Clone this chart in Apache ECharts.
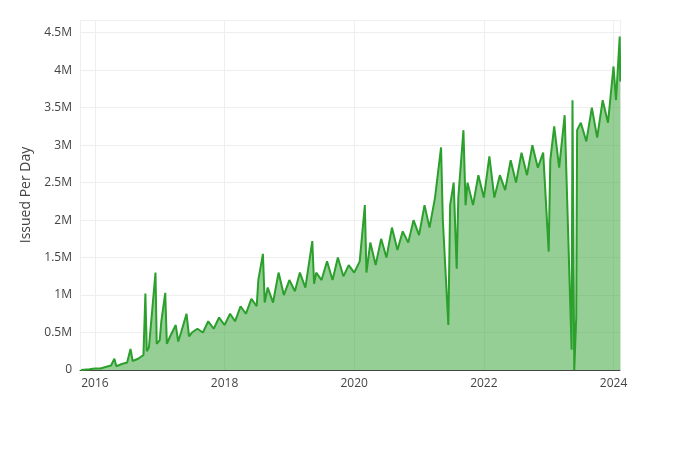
<!DOCTYPE html><html><head><meta charset="utf-8"><script src="https://cdn.jsdelivr.net/npm/echarts@6/dist/echarts.min.js"></script></head><body style="margin:0"><div id="c" style="width:700px;height:450px"></div><script>
const dates=["2015-10-15","2015-12-01","2016-01-01","2016-02-01","2016-03-01","2016-04-01","2016-04-20","2016-05-01","2016-06-01","2016-07-01","2016-07-20","2016-08-01","2016-09-01","2016-10-01","2016-10-12","2016-10-20","2016-11-01","2016-12-08","2016-12-15","2017-01-01","2017-01-10","2017-02-01","2017-02-10","2017-03-01","2017-04-01","2017-04-15","2017-05-01","2017-06-01","2017-06-15","2017-07-01","2017-08-01","2017-09-01","2017-10-01","2017-11-01","2017-12-01","2018-01-01","2018-02-01","2018-03-01","2018-04-01","2018-05-01","2018-06-01","2018-07-01","2018-07-10","2018-08-05","2018-08-15","2018-09-01","2018-10-01","2018-11-01","2018-12-01","2019-01-01","2019-02-01","2019-03-01","2019-04-01","2019-05-10","2019-05-20","2019-06-01","2019-07-01","2019-08-01","2019-09-01","2019-10-01","2019-11-01","2019-12-01","2020-01-01","2020-02-01","2020-03-01","2020-03-10","2020-04-01","2020-05-01","2020-06-01","2020-07-01","2020-08-01","2020-09-01","2020-10-01","2020-11-01","2020-12-01","2021-01-01","2021-02-01","2021-03-01","2021-04-01","2021-05-05","2021-05-15","2021-06-15","2021-06-25","2021-07-15","2021-08-01","2021-08-10","2021-09-08","2021-09-20","2021-10-01","2021-11-01","2021-12-01","2022-01-01","2022-02-01","2022-03-01","2022-04-01","2022-05-01","2022-06-01","2022-07-01","2022-08-01","2022-09-01","2022-10-01","2022-11-01","2022-12-01","2023-01-01","2023-01-10","2023-02-01","2023-03-01","2023-04-01","2023-05-10","2023-05-15","2023-05-25","2023-06-05","2023-06-10","2023-07-01","2023-08-01","2023-09-01","2023-10-01","2023-11-01","2023-12-01","2024-01-01","2024-01-15","2024-02-05","2024-02-08"];
const values=[0,0.01,0.02,0.02,0.04,0.06,0.15,0.05,0.08,0.1,0.28,0.12,0.15,0.2,1.02,0.25,0.3,1.3,0.35,0.4,0.65,1.03,0.35,0.45,0.6,0.38,0.5,0.75,0.45,0.5,0.55,0.5,0.65,0.55,0.7,0.6,0.75,0.65,0.85,0.75,0.95,0.85,1.2,1.55,0.9,1.1,0.9,1.3,1.0,1.2,1.05,1.3,1.1,1.72,1.15,1.3,1.2,1.45,1.2,1.5,1.25,1.4,1.3,1.45,2.2,1.3,1.7,1.4,1.75,1.5,1.9,1.6,1.85,1.7,2.0,1.8,2.2,1.9,2.3,2.97,2.0,0.6,2.2,2.5,1.35,2.3,3.2,2.2,2.5,2.2,2.6,2.3,2.85,2.3,2.6,2.4,2.8,2.5,2.9,2.6,3.0,2.7,2.9,1.58,2.8,3.25,2.7,3.4,0.27,3.6,0,0.7,3.2,3.3,3.05,3.5,3.1,3.6,3.3,4.05,3.6,4.45,3.85];
const xTicks=[2016,2018,2020,2022,2024];
function toYear(s){const d=new Date(s+"T00:00:00Z");const y=d.getUTCFullYear();const a=Date.UTC(y,0,1),b=Date.UTC(y+1,0,1);return y+(d-a)/(b-a);}
const data=dates.map((d,i)=>[toYear(d),values[i]]);
const f='"Open Sans", sans-serif';
echarts.init(document.getElementById('c')).setOption({
animation:false,
grid:{left:80,right:80,top:20,bottom:80},
xAxis:{type:'value',min:2015.77,max:2024.1,
 axisLine:{lineStyle:{color:'#444'}},axisTick:{show:false},
 axisLabel:{customValues:xTicks,color:'#444',fontFamily:f,fontSize:12,formatter:v=>String(Math.round(v))},
 splitLine:{show:true,lineStyle:{color:'#eee'}}},
yAxis:{type:'value',min:0,max:4.67,interval:0.5,name:'Issued Per Day',nameLocation:'middle',nameGap:35,
 nameTextStyle:{color:'#444',fontFamily:f,fontSize:14},
 axisLine:{show:false},axisTick:{show:false},
 axisLabel:{showMaxLabel:false,color:'#444',fontFamily:f,fontSize:12,formatter:v=>v===0?'0':v+'M'},
 splitLine:{lineStyle:{color:'#eee'}}},
series:[{type:'line',data:data,showSymbol:false,lineStyle:{color:'#2ca02c',width:2},areaStyle:{color:'rgba(44,160,44,0.5)',opacity:1}}]
});
</script></body></html>
